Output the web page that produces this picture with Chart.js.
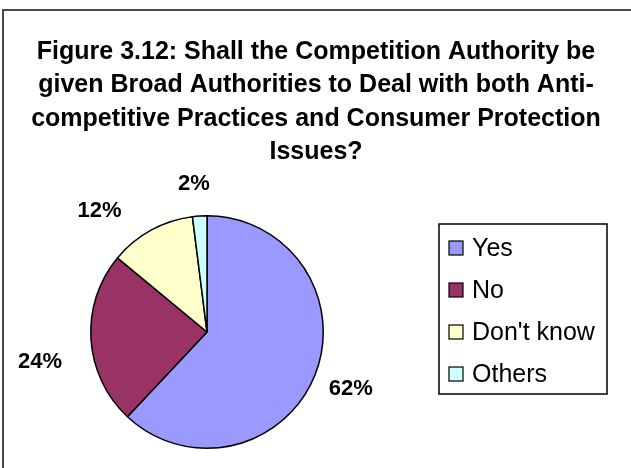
<!DOCTYPE html>
<html>
<head>
<meta charset="utf-8">
<script src="https://cdn.jsdelivr.net/npm/chart.js@4.4.1/dist/chart.umd.min.js"></script>
<style>
  html, body { margin: 0; padding: 0; background: #fff; }
  #wrap { position: relative; width: 631px; height: 468px; }
</style>
</head>
<body>
<div id="wrap"><canvas id="authorityPie"></canvas></div>
<script>
const titleLines = [
    'Figure 3.12: Shall the Competition Authority be',
    'given Broad Authorities to Deal with both Anti-',
    'competitive Practices and Consumer Protection',
    'Issues?'
];
const categories = ['Yes', 'No', "Don't know", 'Others'];
const shares = [62, 24, 12, 2];
const sliceColors = ['#9999FF', '#993366', '#FFFFCC', '#CCFFFF'];

const FONT = '"Liberation Sans", Arial, sans-serif';
// small per-slice shifts so the outside labels sit where they read best
const labelNudge = [[4, 7], [-17, 21], [-35, -2], [-4, -12]];

// Frame, title, outside percentage labels and boxed legend
const decorations = {
    id: 'decorations',
    beforeDraw(chart) {
        const ctx = chart.ctx;
        ctx.save();
        ctx.fillStyle = '#ffffff';
        ctx.fillRect(0, 0, chart.width, chart.height);
        ctx.strokeStyle = '#4a4a4a';
        ctx.lineWidth = 2;
        ctx.beginPath();
        ctx.moveTo(3, chart.height + 2);
        ctx.lineTo(3, 10);
        ctx.lineTo(chart.width + 2, 10);
        ctx.stroke();
        ctx.restore();
    },
    afterDraw(chart) {
        const ctx = chart.ctx;
        ctx.save();

        // title
        ctx.fillStyle = '#000';
        ctx.textAlign = 'center';
        ctx.textBaseline = 'middle';
        ctx.font = 'bold 25px ' + FONT;
        titleLines.forEach((line, i) => {
            ctx.fillText(line, 316, 52 + i * 33.5);
        });

        // percentage labels outside each slice
        ctx.font = 'bold 22px ' + FONT;
        const arcs = chart.getDatasetMeta(0).data;
        arcs.forEach((arc, i) => {
            const p = arc.getProps(['x', 'y', 'startAngle', 'endAngle', 'outerRadius'], true);
            const mid = (p.startAngle + p.endAngle) / 2;
            const dx = Math.cos(mid), dy = Math.sin(mid);
            const text = shares[i] + '%';
            const w = ctx.measureText(text).width;
            const h = 16;
            const gap = p.outerRadius + 12;
            const tx = p.x + dx * gap + dx * w / 2 + labelNudge[i][0];
            const ty = p.y + dy * gap + dy * h / 2 + labelNudge[i][1];
            ctx.fillText(text, tx, ty);
        });

        // legend
        const box = { left: 439, top: 224, right: 607, bottom: 394 };
        ctx.strokeStyle = '#000';
        ctx.lineWidth = 1.5;
        ctx.strokeRect(box.left, box.top, box.right - box.left, box.bottom - box.top);
        ctx.font = '25px ' + FONT;
        ctx.textAlign = 'left';
        categories.forEach((name, i) => {
            const cy = 248 + i * 42;
            ctx.fillStyle = sliceColors[i];
            ctx.fillRect(449, cy - 7, 14, 14);
            ctx.lineWidth = 1.2;
            ctx.strokeRect(449, cy - 7, 14, 14);
            ctx.fillStyle = '#000';
            ctx.fillText(name, 472, cy + 1);
        });

        ctx.restore();
    }
};

new Chart(document.getElementById('authorityPie').getContext('2d'), {
    type: 'pie',
    data: {
        labels: categories,
        datasets: [{
            data: shares,
            backgroundColor: sliceColors,
            borderColor: '#000000',
            borderWidth: 1.5
        }]
    },
    options: {
        responsive: true,
        maintainAspectRatio: false,
        animation: false,
        layout: {
            padding: { left: 90, right: 307, top: 215, bottom: 19 }
        },
        plugins: {
            legend: { display: false },
            tooltip: { enabled: false }
        }
    },
    plugins: [decorations]
});
</script>
</body>
</html>
